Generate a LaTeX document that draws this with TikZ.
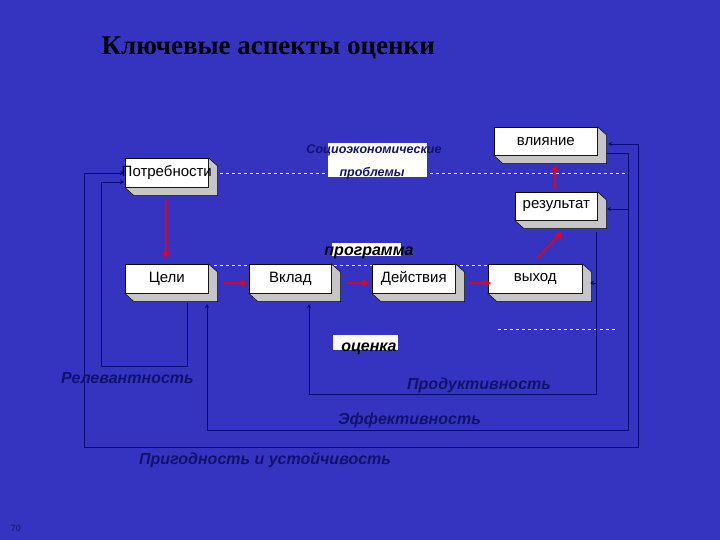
\documentclass[tikz,border=0pt]{standalone}
\usepackage{fontspec}
\setmainfont{Liberation Sans}
\newfontfamily\titlefont{Liberation Serif}
\usetikzlibrary{arrows.meta}
\definecolor{bg}{RGB}{52,52,192}
\definecolor{navy}{RGB}{10,10,120}
\definecolor{lab}{RGB}{18,18,110}
\definecolor{arred}{RGB}{230,0,30}
\tikzset{
 boxw/.style={draw=black,fill=white,line width=0.6pt,inner sep=0pt,minimum height=29pt},
 btext/.style={font=\fontsize{15}{15}\selectfont,text=black,inner sep=0pt},
 redarr/.style={draw=arred,line width=1.8pt,-{Triangle[length=6pt,width=7pt]}},
 looparr/.style={draw=navy,line width=0.7pt,-{Stealth[length=4pt,width=4pt]}},
 lbl/.style={font=\fontsize{16}{16}\selectfont\bfseries\itshape,text=lab,inner sep=0pt},
 wdash/.style={draw=white,dashed,line width=0.7pt}
}
\newcommand\threed[6]{%
 \node[boxw,minimum width=#4pt,minimum height=#5pt,anchor=north west] (#1) at (#2,#3) {};
 \fill[gray!45,draw=black,line width=0.5pt] (#1.north east) -- ++(9,8) -- ([shift={(9,8)}]#1.south east) -- ([shift={(9,8)}]#1.south west) -- (#1.south west) -- (#1.south east) -- cycle;
 \node[btext] (#1-t) at (#1) {#6};}
\begin{document}
\begin{tikzpicture}[x=1pt,y=-1pt]
\fill[bg] (0,0) rectangle (720,540);
\useasboundingbox (0,0) rectangle (720,540);
\node[font=\titlefont\bfseries\fontsize{27}{27}\selectfont,anchor=west] (title) at (98,48) {Ключевые аспекты оценки};
\node[font=\fontsize{9}{9}\selectfont,text=lab] (pg) at (16,528) {70};
% dashed lines
\draw[wdash] (208,173) -- (628,173);
\draw[wdash] (208,265) -- (490,265);
\draw[wdash] (498,329) -- (616,329);
% white label backgrounds
\fill[white] (328,143) rectangle (427,177);
\fill[white] (332,243) rectangle (401,256);
\fill[white] (333,335) rectangle (398,350);
\node[font=\fontsize{12.5}{12.5}\selectfont\bfseries\itshape,text=lab,inner sep=0pt] (soc) at (374,150) {Социоэкономические};
\node[font=\fontsize{12.5}{12.5}\selectfont\bfseries\itshape,text=lab,inner sep=0pt] (prob) at (372,173) {проблемы};
\node[lbl,text=black] (prog) at (369,253) {программа};
\node[lbl,text=black] (otc) at (369,349) {оценка};
% boxes
\threed{need}{125}{158}{83}{29}{Потребности}
\threed{infl}{494}{127}{103}{28}{влияние}
\threed{res}{515}{192}{82}{28}{результат}
\threed{goal}{125}{264}{83}{29}{Цели}
\threed{inp}{249}{264}{82}{29}{Вклад}
\threed{act}{372}{264}{83}{29}{Действия}
\threed{out}{488}{264}{94}{29}{выход}
% red arrows
\draw[redarr] (166,200) -- (166,258);
\draw[redarr] (224,283) -- (247,283);
\draw[redarr] (347,283) -- (369,283);
\draw[redarr] (469,283) -- (491,283);
\draw[redarr] (537,258) -- (562,232);
\draw[redarr] (555,189) -- (555,165);
% feedback loops
\draw[looparr] (187,303) -- (187,366) -- (101,366) -- (101,182) -- (124,182);
\draw[looparr] (636,447) -- (84,447) -- (84,173) -- (124,173);
\draw[looparr] (636,447) -- (638,447) -- (638,144) -- (608,144);
\draw[looparr] (607,153) -- (628,153) -- (628,430) -- (207,430) -- (207,304);
\draw[looparr] (628,209) -- (607,209);
\draw[looparr] (596,232) -- (596,394) -- (309,394) -- (309,304);
\draw[looparr] (596,283) -- (590,283);
% labels
\node[lbl,anchor=west] (rel) at (61,378) {Релевантность};
\node[lbl,anchor=west] (prod) at (407,385) {Продуктивность};
\node[lbl,anchor=west] (eff) at (338,420) {Эффективность};
\node[lbl,anchor=west] (sust) at (139,460) {Пригодность и устойчивость};
\end{tikzpicture}
\end{document}
